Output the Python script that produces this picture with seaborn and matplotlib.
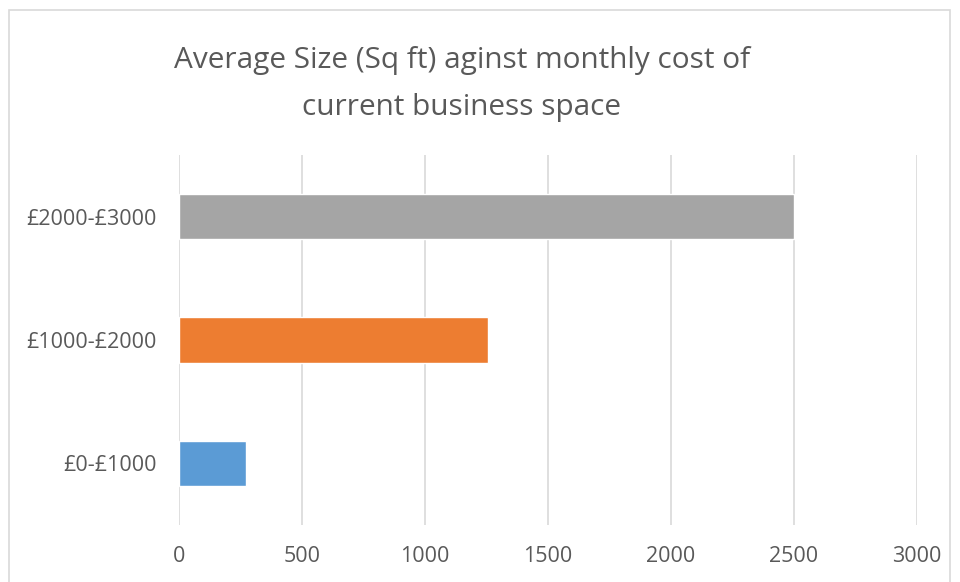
import pandas as pd
import matplotlib.pyplot as plt
import matplotlib.patches as mpatches
import seaborn as sns

# data
bands = ['£2000-£3000', '£1000-£2000', '£0-£1000']
avg_size = [2500, 1256, 272]
bar_colors = ['#A5A5A5', '#ED7D31', '#5B9BD5']
x_ticks = [0, 500, 1000, 1500, 2000, 2500, 3000]

df = pd.DataFrame({'band': bands, 'size': avg_size})

sns.set_style('white')
plt.rcParams['font.family'] = ['Open Sans', 'DejaVu Sans']

fig = plt.figure(figsize=(9.6, 5.82), dpi=100)
ax = fig.add_axes([179 / 960, 1 - 525 / 582, (917 - 179) / 960, 370 / 582])

sns.barplot(data=df, x='size', y='band', hue='band', order=bands,
            palette=dict(zip(bands, bar_colors)), width=0.366,
            saturation=1, legend=False, ax=ax, zorder=3)

ax.set_xlim(0, 3000)
ax.set_xticks(x_ticks)
ax.xaxis.grid(True, color='#D9D9D9', linewidth=1.2, zorder=0)
ax.yaxis.grid(False)
for s in ax.spines.values():
    s.set_visible(False)
ax.tick_params(axis='both', length=0, labelsize=15.5, colors='#595959')
ax.tick_params(axis='x', pad=15)
ax.tick_params(axis='y', pad=16)
ax.set_xlabel('')
ax.set_ylabel('')

fig.text(0.481, 1 - 84 / 582, 'Average Size (Sq ft) aginst monthly cost of\ncurrent business space',
         ha='center', va='center', fontsize=21.4, color='#595959', linespacing=1.8)

# chart border
fig.patches.append(mpatches.Rectangle((9 / 960, -0.05), (950 - 9) / 960, 1 - 10 / 582 + 0.05,
                                      transform=fig.transFigure, fill=False,
                                      edgecolor='#D9D9D9', linewidth=1.2))

fig.savefig('out.png', dpi=100)
